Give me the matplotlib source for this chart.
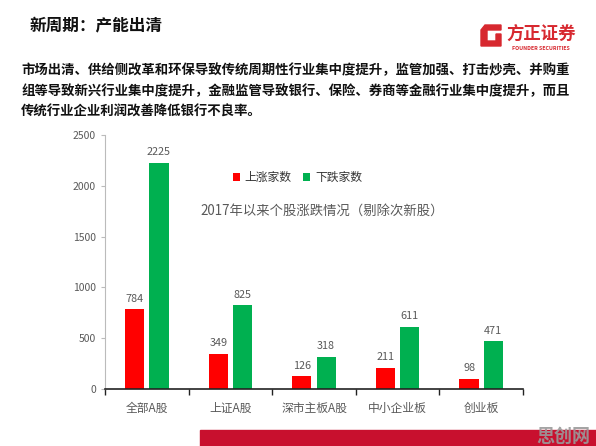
import numpy as np
import matplotlib
matplotlib.use("Agg")
import matplotlib.pyplot as plt
from matplotlib.patches import Rectangle, Polygon

plt.rcParams['font.family'] = ['Noto Sans CJK SC', 'DejaVu Sans']

categories = ['全部A股', '上证A股', '深市主板A股', '中小企业板', '创业板']
up_counts = [784, 349, 126, 211, 98]
down_counts = [2225, 825, 318, 611, 471]
yticks = [0, 500, 1000, 1500, 2000, 2500]

title = '新周期：产能出清'
body = ['市场出清、供给侧改革和环保导致传统周期性行业集中度提升，监管加强、打击炒壳、并购重',
        '组等导致新兴行业集中度提升，金融监管导致银行、保险、券商等金融行业集中度提升，而且',
        '传统行业企业利润改善降低银行不良率。']
chart_title = '2017年以来个股涨跌情况（剔除次新股）'

RED = '#FF0000'
GREEN = '#00B050'
GREY = '#595959'


def main():
    fig = plt.figure(figsize=(5.96, 4.46), dpi=100)
    fig.patch.set_facecolor('white')

    # header
    fig.text(30 / 596, 1 - 25 / 446, title, fontsize=12, fontweight='bold',
             va='center', ha='left', color='#111111')
    for i, line in enumerate(body):
        fig.text(21 / 596, 1 - (70 + 21 * i) / 446, line, fontsize=9.65,
                 fontweight='bold', va='center', ha='left', color='#111111')

    # logo
    icon = Polygon([(481, 46), (481, 30), (485, 25), (501, 25), (501, 30),
                    (487, 30), (487, 41), (496, 41), (496, 34), (501, 34),
                    (501, 46)], closed=True, color='#D7282F',
                   transform=fig.transFigure)
    icon.set_xy([(x / 596, 1 - y / 446) for x, y in icon.get_xy()])
    fig.patches.append(icon)
    fig.text(541 / 596, 1 - 34 / 446, '方正证券', fontsize=12.5, fontweight='bold',
             color='#D7282F', ha='center', va='center')
    fig.text(541 / 596, 1 - 48 / 446, 'FOUNDER SECURITIES', fontsize=3.8,
             fontweight='bold', color='#D7282F', ha='center', va='center')

    # chart
    ax = fig.add_axes([105 / 596, 1 - 389 / 446, 418 / 596, 254 / 446])
    x = np.arange(len(categories))
    w = 0.23
    ax.bar(x - 0.145, up_counts, w, color=RED, label='上涨家数')
    ax.bar(x + 0.145, down_counts, w, color=GREEN, label='下跌家数')
    for xi, v in zip(x, up_counts):
        ax.text(xi - 0.145, v + 55, str(v), ha='center', va='bottom',
                fontsize=7.8, color=GREY)
    for xi, v in zip(x, down_counts):
        ax.text(xi + 0.145, v + 55, str(v), ha='center', va='bottom',
                fontsize=7.8, color=GREY)

    ax.set_xlim(-0.5, len(categories) - 0.5)
    ax.set_ylim(0, 2500)
    ax.set_yticks(yticks)
    ax.set_yticklabels([str(t) for t in yticks], fontsize=7.5, color=GREY)
    ax.set_xticks(np.arange(len(categories) + 1) - 0.5)
    ax.set_xticklabels([])
    ax.tick_params(axis='x', direction='out', length=4, color='#222222', width=1)
    ax.tick_params(axis='y', direction='out', length=3, color='#BBBBBB')
    for xi, c in zip(x, categories):
        ax.text(xi, -190, c, ha='center', va='center', fontsize=8.5,
                color=GREY)
    for s in ['top', 'right']:
        ax.spines[s].set_visible(False)
    ax.spines['left'].set_color('#BBBBBB')
    ax.spines['bottom'].set_color('#222222')
    ax.spines['bottom'].set_linewidth(1.2)

    leg = ax.legend(loc='upper left', bbox_to_anchor=(0.28, 0.9), ncol=2,
                    frameon=False, fontsize=8.5, handlelength=0.6,
                    handleheight=0.6, handletextpad=0.4, columnspacing=1.0)
    for t in leg.get_texts():
        t.set_color('#333333')
    ax.text(0.52, 0.70, chart_title, transform=ax.transAxes, ha='center',
            va='center', fontsize=9.6, color=GREY)

    # bottom band and watermark
    fig.patches.append(Rectangle((200 / 596, 0), 396 / 596, 16 / 446,
                                 transform=fig.transFigure, color='#C8102E'))
    fig.text(590 / 596, 10 / 446, '思创网', fontsize=13, fontweight='bold',
             color='#9A9A9A', ha='right', va='center', alpha=0.9)

    fig.savefig('out.png', dpi=100)


if __name__ == "__main__":
    main()
